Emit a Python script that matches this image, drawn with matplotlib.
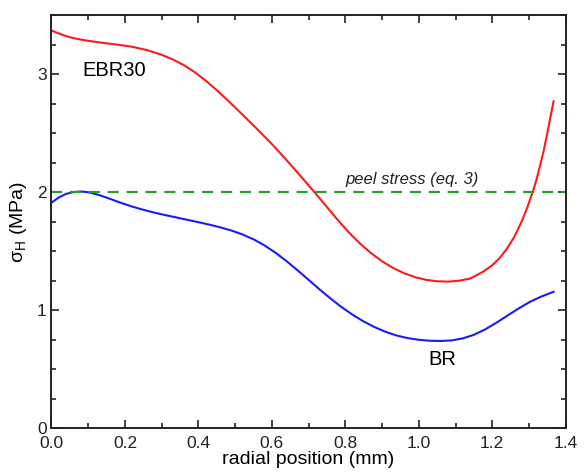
import matplotlib
matplotlib.use("Agg")
import matplotlib.pyplot as plt
from matplotlib.ticker import MultipleLocator

plt.rcParams['font.family'] = ['Liberation Sans', 'DejaVu Sans']
plt.rcParams['mathtext.fontset'] = 'custom'
plt.rcParams['mathtext.rm'] = 'Liberation Sans'

# EBR30 curve
ebr_x = [0.00, 0.02, 0.04, 0.06, 0.085, 0.11, 0.14, 0.18, 0.22, 0.26, 0.30, 0.33,
         0.36, 0.39, 0.42, 0.45, 0.48, 0.51, 0.54, 0.57, 0.60, 0.63, 0.66, 0.69,
         0.72, 0.75, 0.78, 0.81, 0.84, 0.87, 0.90, 0.93, 0.96, 0.99, 1.02, 1.05,
         1.08, 1.11, 1.14, 1.175, 1.20, 1.22, 1.24, 1.26, 1.28, 1.293, 1.30,
         1.31, 1.32, 1.33, 1.34, 1.35, 1.367]
ebr_y = [3.37, 3.345, 3.322, 3.305, 3.29, 3.278, 3.265, 3.25, 3.232, 3.204, 3.164, 3.125,
         3.077, 3.017, 2.945, 2.864, 2.777, 2.687, 2.596, 2.503, 2.407, 2.306, 2.201, 2.093,
         1.985, 1.873, 1.762, 1.657, 1.564, 1.483, 1.414, 1.357, 1.312, 1.279, 1.256, 1.244,
         1.241, 1.249, 1.267, 1.325, 1.38, 1.44, 1.52, 1.62, 1.75, 1.85, 1.91,
         2.00, 2.10, 2.22, 2.35, 2.50, 2.77]

# BR curve
br_x = [0.00, 0.02, 0.04, 0.06, 0.08, 0.10, 0.13, 0.16, 0.19, 0.22, 0.25, 0.28,
        0.31, 0.34, 0.37, 0.40, 0.43, 0.46, 0.49, 0.52, 0.55, 0.58, 0.61, 0.64,
        0.67, 0.70, 0.73, 0.76, 0.79, 0.82, 0.85, 0.88, 0.91, 0.94, 0.97, 1.00,
        1.03, 1.06, 1.09, 1.12, 1.15, 1.18, 1.21, 1.24, 1.27, 1.30, 1.33, 1.367]
br_y = [1.91, 1.955, 1.985, 2.0, 2.005, 1.999, 1.975, 1.942, 1.908, 1.877, 1.85, 1.826,
        1.805, 1.785, 1.765, 1.745, 1.724, 1.701, 1.674, 1.641, 1.60, 1.548, 1.486, 1.415,
        1.337, 1.256, 1.175, 1.097, 1.025, 0.96, 0.903, 0.855, 0.815, 0.784, 0.762, 0.748,
        0.74, 0.738, 0.743, 0.76, 0.79, 0.835, 0.89, 0.95, 1.01, 1.065, 1.11, 1.155]

peel_stress = 2.0
x_limits = [0.0, 1.4]
y_limits = [0.0, 3.5]
x_ticks = [0.0, 0.2, 0.4, 0.6, 0.8, 1.0, 1.2, 1.4]
x_ticklabels = ['0.0', '0.2', '0.4', '0.6', '0.8', '1.0', '1.2', '1.4']
y_ticks = [0, 1, 2, 3]
y_ticklabels = ['0', '1', '2', '3']

fig = plt.figure(figsize=(5.85, 4.74), dpi=100)
ax = fig.add_axes([0.088, 0.097, 0.879, 0.871])

ax.plot(ebr_x, ebr_y, color='#ff1a1a', lw=1.5)
ax.plot(br_x, br_y, color='#1a1aff', lw=1.5)
ax.plot(x_limits, [peel_stress, peel_stress], color='#2a9d2a', lw=1.6,
        dashes=(5, 3.5))

ax.text(0.17, 3.03, 'EBR30', fontsize=14.5, ha='center', va='center')
ax.text(1.065, 0.585, 'BR', fontsize=14.5, ha='center', va='center')
ax.text(0.8, 2.04, 'peel stress (eq. 3)', fontsize=12, style='italic',
        ha='left', va='bottom', color='#222222')

ax.set_xlim(x_limits)
ax.set_ylim(y_limits)
ax.set_xticks(x_ticks)
ax.set_xticklabels(x_ticklabels)
ax.set_yticks(y_ticks)
ax.set_yticklabels(y_ticklabels)
ax.xaxis.set_minor_locator(MultipleLocator(0.1))
ax.yaxis.set_minor_locator(MultipleLocator(0.25))
ax.tick_params(which='both', direction='in', top=True, right=True,
               labelsize=12.5, width=1.2, colors='#222222')
ax.tick_params(which='major', length=6)
ax.tick_params(which='minor', length=3.5)
ax.tick_params(axis='x', which='major', pad=6)
for s in ax.spines.values():
    s.set_linewidth(1.4)
    s.set_color('#222222')

ax.set_xlabel('radial position (mm)', fontsize=14, labelpad=0)
ax.set_ylabel('σ$_\\mathrm{H}$ (MPa)', fontsize=14, labelpad=6)

fig.savefig('out.png', dpi=100)
